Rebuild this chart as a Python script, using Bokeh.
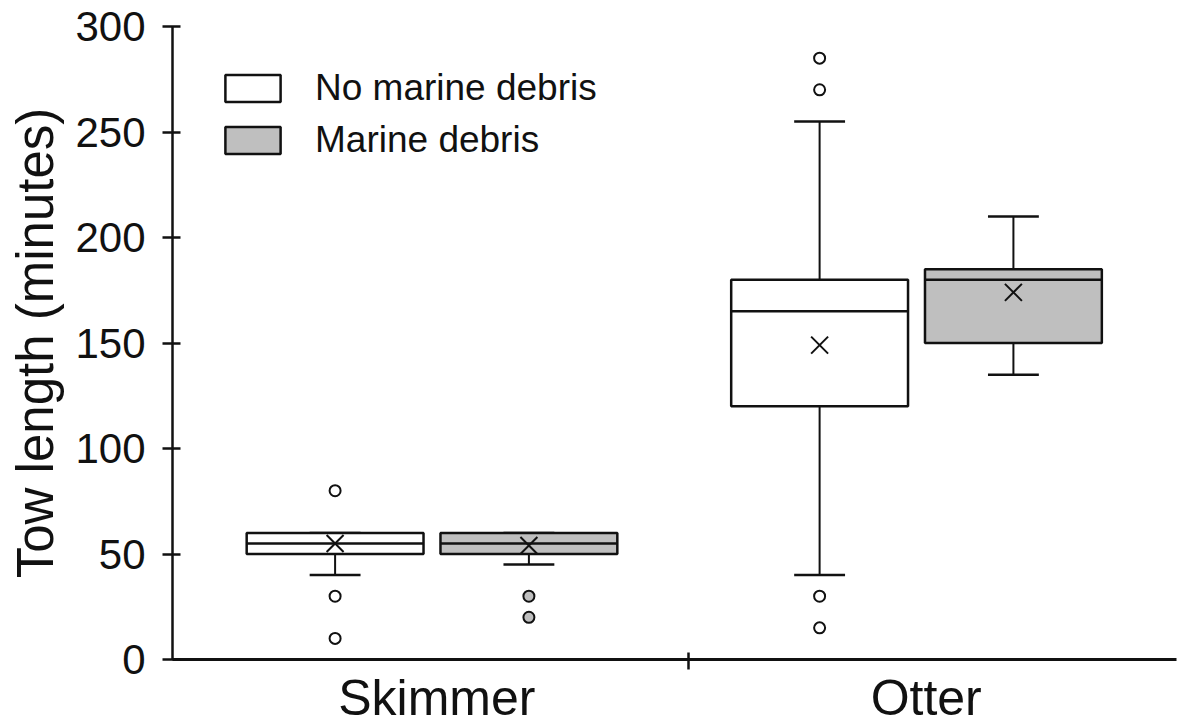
from bokeh.plotting import figure
from bokeh.models import ColumnDataSource, Range1d, FixedTicker, Legend, LegendItem
from bokeh.embed import file_html
from bokeh.resources import INLINE

# ---------------- data ----------------
categories = ["Skimmer", "Otter"]
groups = ["No marine debris", "Marine debris"]

# values per category [Skimmer, Otter]
q1_none = [50, 120]
median_none = [55, 165]
q3_none = [60, 180]
mean_none = [55, 149]
low_none = [40, 40]
high_none = [60, 255]

q1_debris = [50, 150]
median_debris = [55, 180]
q3_debris = [60, 185]
mean_debris = [54, 174]
low_debris = [45, 135]
high_debris = [60, 210]

outliers_none_skimmer = [80, 30, 10]
outliers_none_otter = [285, 270, 30, 15]
outliers_debris_skimmer = [30, 20]
outliers_debris_otter = []

y_ticks = [0, 50, 100, 150, 200, 250, 300]

# ---------------- styling ----------------
FONT = "Liberation Sans"
INK = "#111111"
GREY = "#bfbfbf"
BOX_W = 0.365
CAP_W = 0.105
OFFSET = 0.2
LABEL_NUDGE = [0.01, 1.02]   # category label positions on the axis
DIVIDER = 0.53               # category boundary tick

p = figure(width=1181, height=728, output_backend="svg", toolbar_location=None,
           x_range=Range1d(-0.5356, 1.5366), y_range=Range1d(0, 300),
           min_border_left=172, min_border_right=5, min_border_top=26,
           min_border_bottom=68)
p.outline_line_color = None
p.grid.visible = False
p.background_fill_color = "white"


def draw_group(q1, med, q3, mean, low, high, out_s, out_o, offset, fill):
    xs = [i + offset for i in range(len(categories))]
    src = ColumnDataSource(dict(
        x=xs, q1=q1, med=med, q3=q3, mean=mean, low=low, high=high,
        xl=[x - BOX_W / 2 for x in xs], xr=[x + BOX_W / 2 for x in xs],
        cl=[x - CAP_W / 2 for x in xs], cr=[x + CAP_W / 2 for x in xs]))
    # whiskers
    p.segment(x0="x", x1="x", y0="q1", y1="low", source=src, line_color=INK, line_width=2)
    p.segment(x0="x", x1="x", y0="q3", y1="high", source=src, line_color=INK, line_width=2)
    p.segment(x0="cl", x1="cr", y0="low", y1="low", source=src, line_color=INK, line_width=2.5)
    p.segment(x0="cl", x1="cr", y0="high", y1="high", source=src, line_color=INK, line_width=2.5)
    # box
    box = p.vbar(x="x", width=BOX_W, top="q3", bottom="q1", source=src,
                 fill_color=fill, line_color=INK, line_width=2.5)
    # median
    p.segment(x0="xl", x1="xr", y0="med", y1="med", source=src, line_color=INK, line_width=2.5)
    # mean
    p.scatter(x="x", y="mean", source=src, marker="x", size=24, line_color=INK, line_width=2)
    # outliers
    ox = [xs[0]] * len(out_s) + [xs[1]] * len(out_o)
    oy = list(out_s) + list(out_o)
    p.scatter(x=ox, y=oy, marker="circle", size=11, fill_color=fill,
              line_color=INK, line_width=2)
    return box


box_none = draw_group(q1_none, median_none, q3_none, mean_none, low_none, high_none,
                      outliers_none_skimmer, outliers_none_otter, -OFFSET, "white")
box_debris = draw_group(q1_debris, median_debris, q3_debris, mean_debris, low_debris,
                        high_debris, outliers_debris_skimmer, outliers_debris_otter,
                        OFFSET, GREY)

# ---------------- axes ----------------
yax = p.yaxis[0]
yax.ticker = FixedTicker(ticks=y_ticks)
yax.axis_label = "Tow length (minutes)"
yax.axis_label_text_font = FONT
yax.axis_label_text_font_size = "51px"
yax.axis_label_text_font_style = "normal"
yax.axis_label_text_color = INK
yax.axis_label_standoff = 8
yax.major_label_text_font = FONT
yax.major_label_text_font_size = "42px"
yax.major_label_text_color = INK
yax.major_label_standoff = 17
yax.major_tick_in = 8
yax.major_tick_out = 10
yax.major_tick_line_width = 2.5
yax.major_tick_line_color = INK
yax.minor_tick_line_color = None
yax.axis_line_width = 2.5
yax.axis_line_color = INK

xax = p.xaxis[0]
xax.ticker = FixedTicker(ticks=LABEL_NUDGE, minor_ticks=[DIVIDER])
xax.major_label_overrides = {LABEL_NUDGE[0]: categories[0], LABEL_NUDGE[1]: categories[1]}
xax.major_label_text_font = FONT
xax.major_label_text_font_size = "50px"
xax.major_label_text_color = INK
xax.major_label_standoff = 0
xax.major_tick_in = 0
xax.major_tick_out = 0
xax.minor_tick_in = 7
xax.minor_tick_out = 10
xax.minor_tick_line_width = 2.5
xax.minor_tick_line_color = INK
xax.axis_line_width = 3
xax.axis_line_color = INK

# ---------------- legend ----------------
legend = Legend(items=[LegendItem(label=groups[0], renderers=[box_none]),
                       LegendItem(label=groups[1], renderers=[box_debris])],
                location=(46, 498), margin=0, padding=0, spacing=10,
                glyph_width=69, glyph_height=34, label_standoff=28,
                label_text_font=FONT, label_text_font_size="37px",
                label_text_color=INK, border_line_color=None,
                background_fill_alpha=0)
p.add_layout(legend)

open("out.html", "w").write(file_html(p, INLINE))
